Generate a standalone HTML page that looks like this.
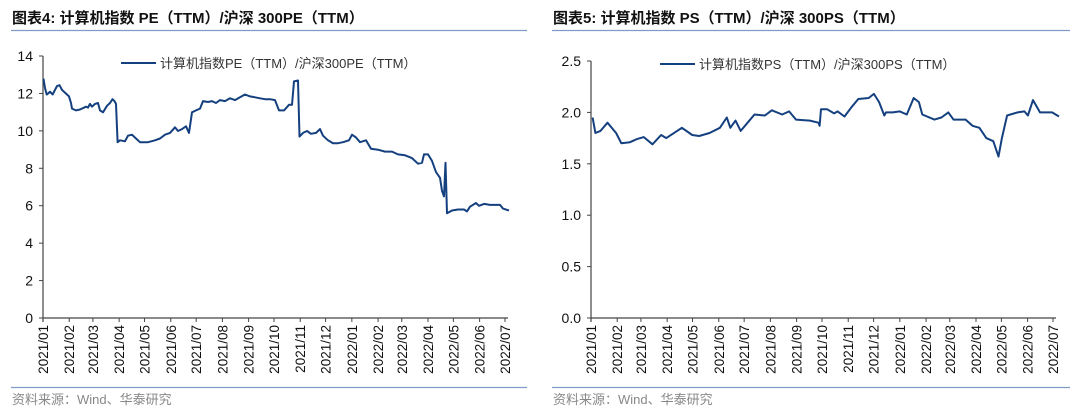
<!DOCTYPE html>
<html><head><meta charset="utf-8"><style>
html,body{margin:0;padding:0;background:#fff;}
svg text{font-family:"Liberation Sans","Noto Sans CJK SC",sans-serif;}
</style></head><body>
<svg id="s" width="1080" height="411" xmlns="http://www.w3.org/2000/svg">
<text x="12" y="23" font-size="15" font-weight="bold" fill="#111">图表4:  计算机指数 PE（TTM）/沪深 300PE（TTM）</text>
<text x="553" y="23" font-size="15" font-weight="bold" fill="#111">图表5:  计算机指数 PS（TTM）/沪深 300PS（TTM）</text>
<line x1="11" y1="30.5" x2="527" y2="30.5" stroke="#7f9cc4" stroke-width="1.2"/>
<line x1="552" y1="30.5" x2="1070" y2="30.5" stroke="#7f9cc4" stroke-width="1.2"/>
<line x1="11" y1="387.5" x2="527" y2="387.5" stroke="#7f9cc4" stroke-width="1.2"/>
<line x1="552" y1="387.5" x2="1070" y2="387.5" stroke="#7f9cc4" stroke-width="1.2"/>
<text x="12" y="404" font-size="13" fill="#888">资料来源：Wind、华泰研究</text>
<text x="553" y="404" font-size="13" fill="#888">资料来源：Wind、华泰研究</text>
<g id="g"></g>
</svg>
<script>
var g=document.getElementById('g'),h='';
var months=[31,28,31,30,31,30,31,31,30,31,30,31,31,28,31,30,31,30];
var lbl=['2021/01','2021/02','2021/03','2021/04','2021/05','2021/06','2021/07','2021/08','2021/09','2021/10','2021/11','2021/12','2022/01','2022/02','2022/03','2022/04','2022/05','2022/06','2022/07'];
function chart(x0,x1,y0,yT,vals,fmt){
  h+='<line x1="'+x0+'" y1="'+yT+'" x2="'+x0+'" y2="'+(y0+4)+'" stroke="#444" stroke-width="1.2"/>';
  h+='<line x1="'+x0+'" y1="'+y0+'" x2="'+(x1+3)+'" y2="'+y0+'" stroke="#444" stroke-width="1.2"/>';
  var n=vals.length;
  for(var i=0;i<n;i++){var y=y0-(y0-yT)*i/(n-1);
    h+='<line x1="'+(x0-4)+'" y1="'+y+'" x2="'+x0+'" y2="'+y+'" stroke="#444"/>';
    h+='<text x="'+(x0-10)+'" y="'+(y+5)+'" font-size="14" text-anchor="end" fill="#111">'+vals[i]+'</text>';}
  var tot=546,d=0;
  for(var m=0;m<19;m++){var x=x0+(x1-x0)*d/tot;
    h+='<line x1="'+x+'" y1="'+y0+'" x2="'+x+'" y2="'+(y0+4)+'" stroke="#444"/>';
    h+='<text transform="translate('+(x+5)+','+(y0+7)+') rotate(-90)" font-size="13.5" text-anchor="end" fill="#111">'+lbl[m]+'</text>';
    if(m<18)d+=months[m];}
}
chart(43,505,318,56,['0','2','4','6','8','10','12','14']);
chart(591,1053,318,61,['0.0','0.5','1.0','1.5','2.0','2.5']);
function line(pts,y0,sc){var s='';for(var i=0;i<pts.length;i+=2){s+=pts[i]+','+(y0-pts[i+1]*sc).toFixed(1)+' ';}
  h+='<polyline points="'+s+'" fill="none" stroke="#15407f" stroke-width="2" stroke-linejoin="round"/>';}
var L=[43.5,12.8,45,12.3,46.7,11.95,48,12.0,50,12.1,52.6,11.95,55,12.2,57,12.4,59.5,12.45,62,12.2,64,12.1,69,11.85,71,11.5,72,11.2,76,11.1,80,11.15,86,11.3,88,11.25,90,11.45,92,11.3,95,11.45,98,11.5,100,11.1,103,11.0,107,11.35,110,11.5,112.5,11.7,114.5,11.6,116,11.45,117.6,9.4,120,9.5,125,9.45,128,9.75,132,9.8,136,9.6,140,9.4,148,9.4,155,9.5,160,9.6,165,9.8,170,9.9,175,10.2,178,10.0,182,10.1,186,10.25,189,9.9,192,11.0,196,11.1,200,11.2,203,11.6,208,11.55,212,11.6,216,11.5,220,11.65,225,11.6,230,11.75,235,11.65,240,11.8,245,11.95,250,11.85,255,11.8,260,11.75,265,11.7,270,11.7,275,11.65,279,11.1,284,11.1,289,11.4,292,11.4,294,12.65,298,12.7,299.5,9.7,303,9.9,307,10.0,311,9.85,316,9.9,320,10.1,323,9.75,328,9.5,333,9.35,338,9.35,343,9.4,349,9.5,352,9.8,356,9.65,360,9.4,366,9.5,371,9.05,378,9.0,385,8.9,392,8.9,398,8.75,405,8.7,412,8.55,418,8.25,422,8.3,424,8.75,428,8.75,432,8.4,436,7.8,440,7.5,442,6.8,444,6.5,445.5,8.3,447,5.6,452,5.75,458,5.8,464,5.8,467,5.7,470,5.95,476,6.15,479,6.0,484,6.1,490,6.05,500,6.05,503,5.85,509,5.75];
line(L,318,18.7);
var R=[],Rz=[152,1.95,160,1.8,175,1.82,195,1.9,220,1.8,235,1.7,260,1.71,280,1.74,300,1.76,325,1.69,350,1.78,365,1.75,410,1.85,440,1.78,460,1.77,490,1.8,520,1.85,540,1.95,550,1.85,565,1.92,580,1.82,600,1.9,620,1.98,650,1.97,670,2.02,700,1.98,720,2.01,740,1.93,780,1.92,805,1.9,808,1.87,812,2.03,830,2.03,850,1.99,860,2.01,880,1.96,900,2.05,920,2.13,950,2.14,965,2.18,980,2.1,995,1.97,1000,2.0,1020,2.0,1040,2.01,1060,1.98,1080,2.14,1095,2.1,1105,1.98,1140,1.93,1160,1.95,1180,2.0,1195,1.93,1230,1.93,1250,1.87,1270,1.85,1290,1.75,1310,1.72,1325,1.57,1335,1.75,1350,1.97,1380,2.0,1400,2.01,1410,1.97,1425,2.12,1445,2.0,1480,2.0,1500,1.96];
for(var i=0;i<Rz.length;i+=2){R.push((540+Rz[i]*0.346).toFixed(1));R.push(Rz[i+1]);}
line(R,318,102.8);
h+='<line x1="121" y1="63" x2="156" y2="63" stroke="#15407f" stroke-width="2"/><text x="160" y="68" font-size="13" fill="#333">计算机指数PE（TTM）/沪深300PE（TTM）</text>';
h+='<line x1="660" y1="64" x2="695" y2="64" stroke="#15407f" stroke-width="2"/><text x="699" y="69" font-size="13" fill="#333">计算机指数PS（TTM）/沪深300PS（TTM）</text>';
g.innerHTML=h;
</script>
</body></html>
